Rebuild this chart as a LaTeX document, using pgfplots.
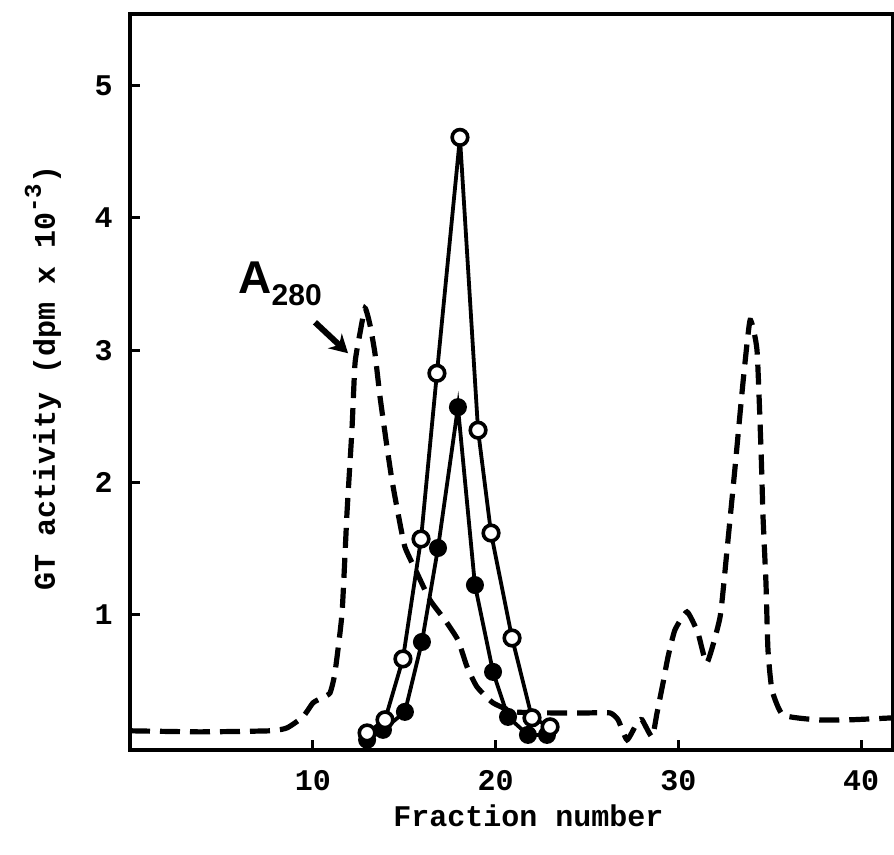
\documentclass[border=0pt]{standalone}
\usepackage{fontspec}
\setmainfont{Liberation Mono}
\newfontfamily\annofont{Liberation Sans}
\usepackage{pgfplots}
\pgfplotsset{compat=1.18}
\usetikzlibrary{arrows.meta}

\begin{document}
\begin{tikzpicture}
\begin{axis}[
    scale only axis,
    width=381.5pt,
    height=368pt,
    xmin=0, xmax=41.74,
    ymin=-0.02, ymax=5.54,
    xtick={10,20,30,40},
    ytick={1,2,3,4,5},
    xtick pos=bottom,
    ytick pos=left,
    tick align=inside,
    major tick length=5pt,
    tick style={line width=1.5pt, black},
    axis line style={line width=2pt},
    /pgf/number format/assume math mode=true,
    ticklabel style={font=\fontsize{15}{18}\selectfont\bfseries},
    xticklabel style={inner sep=0pt, yshift=-10pt},
    yticklabel style={inner sep=0pt, xshift=-8.5pt},
    label style={font=\fontsize{15}{18}\selectfont\bfseries},
    xlabel={Fraction number},
    ylabel={GT activity (dpm x 10\raisebox{7pt}{\fontsize{12}{12}\selectfont -3})},
    x label style={at={(axis description cs:0.522,-0.090)}, anchor=center},
    y label style={at={(axis description cs:-0.114,0.505)}, anchor=center},
]
% A280 absorbance trace
\addplot[line width=2.6pt, dash pattern=on 10pt off 5pt, smooth, tension=0.3] coordinates {
    (0,0.125) (3.83,0.117) (7.66,0.125) (8.59,0.147) (9.46,0.230)
    (10.01,0.336) (10.50,0.374) (10.94,0.411) (11.21,0.562) (11.60,1.015)
    (11.87,1.770) (12.14,2.396) (12.31,2.902) (12.58,3.128) (12.86,3.317)
    (13.13,3.19) (13.40,2.977) (13.68,2.645) (14.06,2.268) (14.33,2.019)
    (14.66,1.770) (15.04,1.513) (15.70,1.317) (16.41,1.113) (17.23,0.962)
    (17.94,0.811) (18.44,0.608) (18.98,0.457) (19.86,0.336) (21.06,0.268)
    (23.14,0.260) (25.0,0.260) (26.26,0.260) (26.70,0.208) (27.19,0.057)
    (27.74,0.185) (28.01,0.208) (28.56,0.079) (28.83,0.260) (29.16,0.487)
    (29.43,0.683) (29.81,0.887) (30.47,1.023) (31.07,0.864) (31.56,0.638)
    (32.28,0.985) (32.66,1.491) (33.10,2.117) (33.53,2.751) (33.92,3.226)
    (34.30,3.000) (34.52,2.245) (34.63,1.740) (34.79,1.242) (34.90,0.736)
    (35.12,0.434) (35.72,0.245) (37.58,0.208) (39.39,0.208) (41.74,0.223)
};

% filled circles
\addplot[line width=1.9pt, mark=*, mark size=3.9pt, mark options={fill=black, line width=1.2pt}] coordinates {
    (12.97,0.057) (13.84,0.132) (15.04,0.268) (15.97,0.796) (16.85,1.506)
    (17.94,2.570) (18.87,1.226) (19.86,0.570) (20.68,0.230) (21.77,0.094)
    (22.81,0.094)
};

% open circles
\addplot[line width=1.9pt, mark=*, mark size=3.9pt, mark options={fill=white, line width=1.8pt}] coordinates {
    (12.97,0.109) (13.95,0.208) (14.93,0.668) (15.92,1.574) (16.79,2.826)
    (18.05,4.608) (19.04,2.396) (19.75,1.619) (20.90,0.826) (21.99,0.223)
    (22.98,0.155)
};

\node[anchor=base west, inner sep=0pt, font=\annofont\bfseries] at (axis cs:5.91,3.43)
    {\fontsize{23}{24}\selectfont A\raisebox{-6pt}{\fontsize{15}{16}\selectfont 280}};
\draw[line width=3pt, -{Stealth[length=9pt,width=10pt]}] (axis cs:10.12,3.211) -- (axis cs:11.93,2.977);

\coordinate (SW) at (rel axis cs:0,0);
\coordinate (NE) at (rel axis cs:1,1);
\end{axis}
\pgfresetboundingbox
\path[use as bounding box] ([xshift=-65pt,yshift=-52.5pt]SW) rectangle ([xshift=0.5pt,yshift=7pt]NE);
\end{tikzpicture}
\end{document}
